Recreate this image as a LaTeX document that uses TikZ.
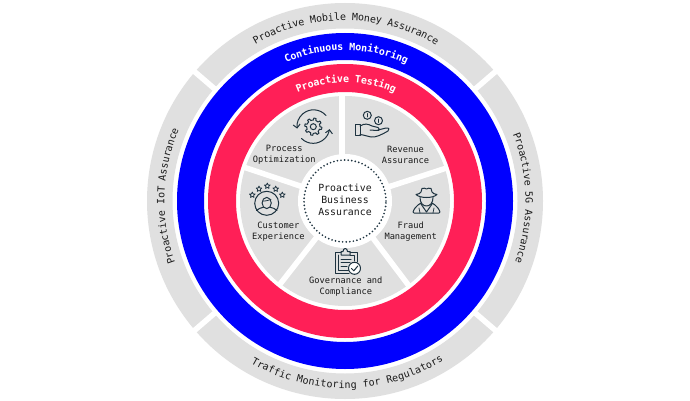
\documentclass[tikz,border=0pt]{standalone}
\usepackage{fontspec}
\setmainfont{DejaVu Sans Mono}
\usetikzlibrary{decorations.text,arrows.meta}
\definecolor{ring}{HTML}{E0E0E0}
\definecolor{rosered}{HTML}{FF1F57}
\definecolor{ink}{HTML}{1E3340}
\definecolor{txt}{HTML}{1A1A1A}
\tikzset{
 lbl/.style={font=\fontsize{8.7}{10.7}\selectfont,text=txt,align=center,inner sep=0},
 ctr/.style={font=\fontsize{9.85}{12}\selectfont,text=txt,align=center,inner sep=0},
 icon/.style={draw=ink,line width=1pt,fill=none,line cap=round,line join=round},
 thinicon/.style={icon,line width=0.75pt},
 vee/.style={-{Straight Barb[length=3.5pt,width=7pt]}}}
\newcommand{\arctext}[5]{% start, end, radius, colour, text
 \path[decorate,decoration={text along path,text align=center,raise=-3.4pt,
   text={|\fontsize{10}{10}\selectfont\color{#4}|#5}}] (#1:#3) arc[start angle=#1,end angle=#2,radius=#3];}
\newcommand{\boldarctext}[5]{% start, end, radius, colour, text
 \path[decorate,decoration={text along path,text align=center,raise=-3.4pt,
   text={|\fontsize{10}{10}\selectfont\bfseries\color{#4}|#5}}] (#1:#3) arc[start angle=#1,end angle=#2,radius=#3];}
\newcommand{\istar}[2]{\draw[thinicon,shift={(#1,#2)}] (-90:3)--(-54:1.4)--(-18:3)--(18:1.4)--(54:3)--(90:1.4)--(126:3)--(162:1.4)--(198:3)--(234:1.4)--cycle;}
\begin{document}
\begin{tikzpicture}[x=1pt,y=1pt]
\useasboundingbox (0,0) rectangle (690,400);
\fill[white] (0,0) rectangle (690,400);
\begin{scope}[shift={(345,199)}]
\fill[ring,even odd rule] (0,0) circle[radius=198] (0,0) circle[radius=172.5];
\foreach \a in {40.7,139.3,220.7,319.3}{\draw[white,line width=5.5pt] (\a:166) -- (\a:202);}
\fill[blue,even odd rule] (0,0) circle[radius=168] (0,0) circle[radius=141];
\fill[rosered,even odd rule] (0,0) circle[radius=137] (0,0) circle[radius=109];
\fill[ring] (0,0) circle[radius=105];
\draw[white,line width=5.5pt] (-3,0) -- (-3,108);
\foreach \a in {18,161.5,232,307}{\draw[white,line width=5.5pt] (0,0) -- (\a:108);}
\fill[white] (0,0) circle[radius=47];
\draw[ink,line width=1.9pt,dash pattern=on 0pt off 3.6pt,line cap=round] (0,0) circle[radius=41];
\arctext{124.7}{54.7}{184}{txt}{Proactive Mobile Money Assurance}
\boldarctext{124.5}{54.5}{154}{white}{Continuous Monitoring}
\boldarctext{124.5}{54.5}{122}{white}{Proactive Testing}
\arctext{223.4}{133.4}{184}{txt}{Proactive IoT Assurance}
\arctext{46}{-44}{184}{txt}{Proactive 5G Assurance}
\arctext{235.8}{305.8}{184}{txt}{Traffic Monitoring for Regulators}
\end{scope}
% nodes, given in image pixels (y measured from the top)
\node[ctr] (centre) at (345,199.7) {Proactive\\Business\\Assurance};
\node[lbl] (proc) at (284.2,245) {Process\\Optimization};
\node[lbl] (rev) at (405.5,245) {Revenue\\Assurance};
\node[lbl] (cust) at (278.3,168.4) {Customer\\Experience};
\node[lbl] (fraud) at (410.7,168.4) {Fraud\\Management};
\node[lbl] (gov) at (345.8,113.4) {Governance and\\Compliance};
% icons, image-pixel coordinates
\begin{scope}[shift={(0,400)},yscale=-1]
 % process
 \draw[icon] plot[domain=0:360,samples=97] ({313.3+(sin(8*\x)>0?8.6:6.6)*cos(\x)},{126.7+(sin(8*\x)>0?8.6:6.6)*sin(\x)}) -- cycle;
 \draw[icon] (313.3,126.7) circle[radius=3];
 \draw[icon,vee] (326,115.5) arc[start angle=-41,end angle=-188,radius=16.5];
 \draw[icon,vee] (301.5,138.5) arc[start angle=135,end angle=8,radius=16.5];
 % hand
 \draw[icon] (355,124.5) rectangle (360,135.5);
 \draw[icon] (360,126) .. controls (365,123) and (368,124) .. (372,126) -- (378,127.5) .. controls (380,128) and (380,131) .. (377,130.5) -- (370,130);
 \draw[icon] (378,130) -- (386,128) .. controls (389,127.5) and (390,129.5) .. (388,131) .. controls (381,135) and (376,137.5) .. (371,137) -- (363,135) -- (360,134.5);
 \draw[icon] (367.3,115.3) circle[radius=4];
 \draw[icon] (378.5,120.7) circle[radius=4];
 \draw[thinicon] (367.3,113.5) -- (367.3,117);
 \draw[thinicon] (378.5,119) -- (378.5,122.5);
 % customer
 \draw[icon] (266.7,203.3) circle[radius=12];
 \draw[icon] (266.7,203) ellipse[x radius=4.6,y radius=5.6];
 \draw[thinicon] (262.2,201) .. controls (265,201.5) and (269,200) .. (271,199.5);
 \draw[icon] (256.5,210.5) .. controls (258,208.5) and (261,208) .. (263.5,207.2);
 \draw[icon] (277,210.5) .. controls (275.5,208.5) and (272.5,208) .. (270,207.2);
 \istar{252.3}{195} \istar{259}{189} \istar{267.3}{186} \istar{275.7}{189} \istar{282.3}{195}
 % fraud
 \draw[icon] (416,194.5) .. controls (420,198.5) and (433,198.5) .. (437,194.5) .. controls (434,194) and (433,193.5) .. (432,192) -- (431,188.5) .. controls (429,187.5) and (428,188.5) .. (426.5,189) .. controls (425,188.5) and (424,187.5) .. (422,188.5) -- (421,192) .. controls (420,193.5) and (419,194) .. (416,194.5) -- cycle;
 \draw[icon] (420,197.5) .. controls (420,203) and (423,206) .. (426.5,206) .. controls (430,206) and (433,203) .. (433,197.5);
 \draw[icon] (421,203) -- (418,205) .. controls (415,208) and (413,210) .. (413,212) -- (414,213) -- (439,213) -- (440,212) .. controls (440,210) and (438,208) .. (435,205) -- (432,203);
 \draw[icon] (421,204) -- (426.5,212) -- (432,204);
 \draw[thinicon] (420,213) -- (419,208);
 \draw[thinicon] (433,213) -- (434,208);
 % governance
 \draw[icon] (341,252) -- (335,252) -- (335,273) -- (349,273);
 \draw[icon] (350,252) -- (357,252) -- (357,262);
 \draw[icon] (338,255) -- (338,270) -- (349,270);
 \draw[icon] (350,255) -- (354,255) -- (354,261);
 \draw[icon] (341,255) -- (341,251.5) -- (343,251.5) .. controls (343,247.5) and (347.5,247.5) .. (347.5,251.5) -- (350,251.5) -- (350,255) -- cycle;
 \draw[icon] (341,259) -- (351,259);
 \draw[icon] (341,262.5) -- (350,262.5);
 \draw[icon] (341,266) -- (347,266);
 \fill[white] (354.5,268.3) circle[radius=6];
 \draw[icon] (354.5,268.3) circle[radius=6];
 \draw[icon] (351.5,268.5) -- (353.8,270.8) -- (357.8,266);
\end{scope}
\end{tikzpicture}
\end{document}
